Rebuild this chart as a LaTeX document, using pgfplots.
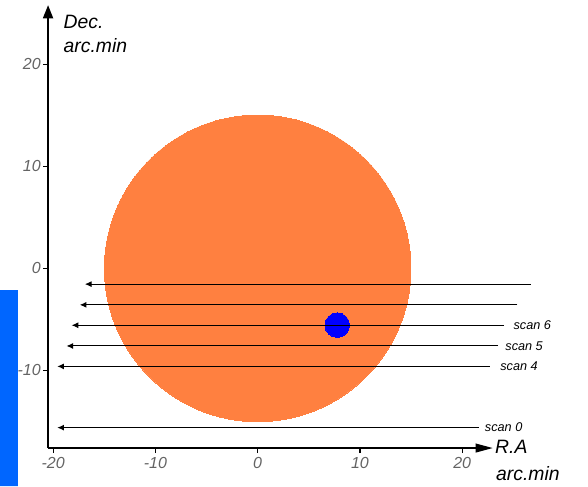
\documentclass[border=0pt]{standalone}
\usepackage{fontspec}
\setmainfont{Liberation Sans}
\usepackage{pgfplots}
\pgfplotsset{compat=1.18}
\usetikzlibrary{arrows.meta}
\definecolor{disk}{RGB}{255,128,64}
\definecolor{dot}{RGB}{0,0,255}
\definecolor{sidebar}{RGB}{0,102,255}
\definecolor{ticklab}{RGB}{100,100,100}
\begin{document}
\begin{tikzpicture}
\begin{axis}[
  x=7.665pt, y=7.65pt,
  xmin=-20.5, xmax=23, ymin=-17.6, ymax=25.8,
  axis lines=left,
  axis line style={line width=1.5pt},
  x axis line style={-{Triangle[length=13pt,width=6.5pt]}},
  y axis line style={-{Triangle[length=10pt,width=7.5pt]}},
  tick align=outside,
  major tick length=3.75pt,
  tick style={black, line width=1pt},
  xtick={-20,-10,0,10,20},
  ytick={-10,0,10,20},
  ticklabel style={font=\fontsize{12}{14}\selectfont\itshape, text=ticklab},
  yticklabel style={inner sep=1.5pt},
  /pgf/number format/assume math mode=true,
  clip=false,
  clip marker paths=true,
]
% side bar
\addplot[fill=sidebar, draw=none] coordinates {(-25.2,-2.13) (-23.44,-2.13) (-23.44,-21.34) (-25.2,-21.34) (-25.2,-2.13)};
% disk
\addplot[only marks, mark=*, mark size=114.9pt, mark options={fill=disk, draw=disk, line width=0pt}] coordinates {(0,0)};
% dot
\addplot[only marks, mark=*, mark size=9.2pt, mark options={fill=dot, draw=dot, line width=0pt}] coordinates {(7.78,-5.56)};
% scans
\pgfplotsset{scanline/.style={black, line width=0.75pt, -{Latex[length=5pt,width=4.5pt]}}}
\addplot[scanline] coordinates {(26.7,-1.54) (-16.9,-1.54)};
\addplot[scanline] coordinates {(25.4,-3.57) (-17.4,-3.57)};
\addplot[scanline] coordinates {(24.1,-5.57) (-18.2,-5.57)};
\addplot[scanline] coordinates {(23.5,-7.6) (-18.7,-7.6)};
\addplot[scanline] coordinates {(22.7,-9.6) (-19.6,-9.6)};
\addplot[scanline] coordinates {(21.6,-15.6) (-19.6,-15.6)};
\begin{scope}[every node/.style={anchor=west, inner sep=0, font=\fontsize{9.5}{11}\selectfont\itshape}]
\node at (axis cs:25.0,-5.57) {scan 6};
\node at (axis cs:24.2,-7.6) {scan 5};
\node at (axis cs:23.7,-9.6) {scan 4};
\node at (axis cs:22.2,-15.6) {scan 0};
\end{scope}
\node[anchor=north west, align=left, inner sep=0, font=\fontsize{14.5}{17.5}\selectfont\itshape] at (axis cs:-19.0,24.8) {Dec.\\arc.min};
\node[anchor=base west, inner sep=0, font=\fontsize{14.5}{17.5}\selectfont\itshape] at (axis cs:23.2,-18.1) {R.A};
\node[anchor=base west, inner sep=0, font=\fontsize{14.5}{17.5}\selectfont\itshape] at (axis cs:23.3,-20.75) {arc.min};
\path (axis cs:-25.2,26.3) (axis cs:32.3,-21.34);
\end{axis}
\end{tikzpicture}
\end{document}
